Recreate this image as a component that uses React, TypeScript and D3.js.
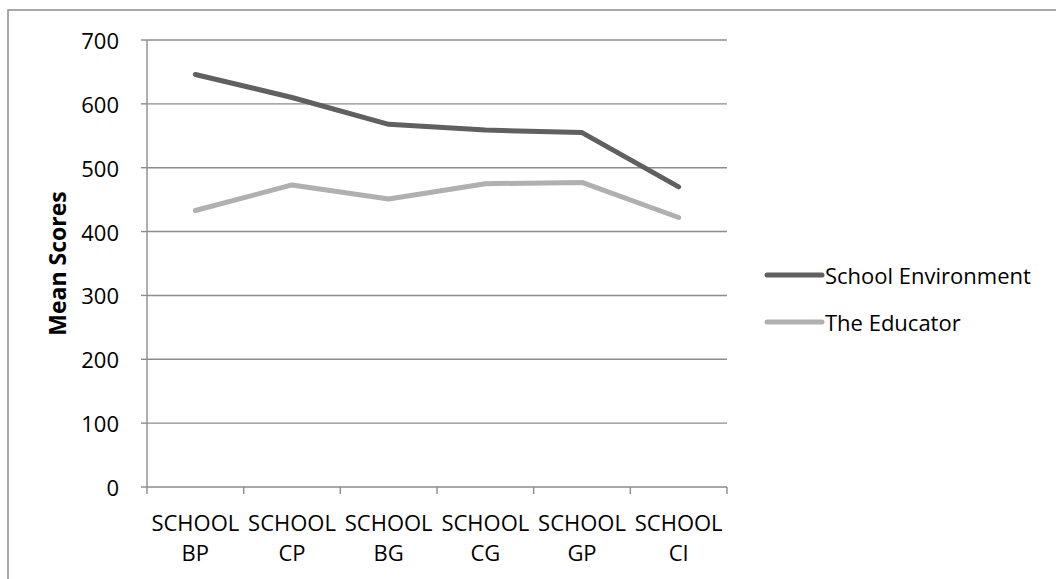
import React from "react";
import * as d3 from "d3";

const categories = ["SCHOOL BP", "SCHOOL CP", "SCHOOL BG", "SCHOOL CG", "SCHOOL GP", "SCHOOL CI"];
const schoolEnvironment = [646, 610, 568, 559, 555, 470];
const theEducator = [433, 473, 451, 475, 477, 422];
const yTicks = [0, 100, 200, 300, 400, 500, 600, 700];
const seriesNames = ["School Environment", "The Educator"];
const seriesColors = ["#606060", "#b0b0b0"];

const W = 1056;
const H = 579;
const plot = { left: 147, right: 727, top: 40, bottom: 487 };
const FONT = "'Open Sans', sans-serif";
const FS = 22;

export default function App() {
  const x = d3.scaleBand<string>().domain(categories).range([plot.left, plot.right]);
  const y = d3.scaleLinear().domain([0, 700]).range([plot.bottom, plot.top]);
  const cx = (c: string) => (x(c) as number) + x.bandwidth() / 2;

  const line = d3
    .line<number>()
    .x((_, i) => cx(categories[i]))
    .y((d) => y(d));

  const series = [schoolEnvironment, theEducator];
  const boundaries = categories.map((c) => x(c) as number).concat([plot.right]);

  return (
    <svg
      width={W}
      height={H}
      style={{ position: "absolute", left: 0, top: 0, background: "#fff" }}
      fontFamily={FONT}
    >
      <rect x={8} y={10} width={W + 10} height={H + 10} fill="#fff" stroke="#8c8c8c" strokeWidth={1.5} />

      {/* horizontal gridlines and y ticks */}
      {yTicks.map((t) => (
        <g key={t}>
          {t > 0 && (
            <line x1={plot.left} x2={plot.right} y1={y(t)} y2={y(t)} stroke="#8c8c8c" strokeWidth={1.4} />
          )}
          <line x1={plot.left - 6} x2={plot.left} y1={y(t)} y2={y(t)} stroke="#8c8c8c" strokeWidth={1.4} />
          <text x={119} y={y(t)} textAnchor="end" dominantBaseline="central" fontSize={FS} fill="#000">
            {t}
          </text>
        </g>
      ))}

      {/* axes */}
      <line x1={plot.left} x2={plot.left} y1={plot.top} y2={plot.bottom} stroke="#8c8c8c" strokeWidth={1.4} />
      <line x1={plot.left} x2={plot.right} y1={plot.bottom} y2={plot.bottom} stroke="#8c8c8c" strokeWidth={1.4} />
      {boundaries.map((b, i) => (
        <line key={i} x1={b} x2={b} y1={plot.bottom} y2={plot.bottom + 7} stroke="#8c8c8c" strokeWidth={1.4} />
      ))}

      {/* category labels */}
      {categories.map((c) => {
        const [a, b] = c.split(" ");
        return (
          <text key={c} textAnchor="middle" fontSize={FS} fill="#000">
            <tspan x={cx(c)} y={531}>{a}</tspan>
            <tspan x={cx(c)} y={561}>{b}</tspan>
          </text>
        );
      })}

      {/* y axis title */}
      <text
        transform={`translate(57,${(plot.top + plot.bottom) / 2}) rotate(-90)`}
        textAnchor="middle"
        dominantBaseline="central"
        fontSize={23}
        fontWeight="bold"
        fill="#000"
      >
        Mean Scores
      </text>

      {/* series lines */}
      {series.map((s, i) => (
        <path
          key={i}
          d={line(s) as string}
          fill="none"
          stroke={seriesColors[i]}
          strokeWidth={5}
          strokeLinejoin="round"
          strokeLinecap="round"
        />
      ))}

      {/* legend */}
      {seriesNames.map((n, i) => {
        const ly = 275 + i * 47;
        return (
          <g key={n}>
            <line x1={767} x2={822} y1={ly} y2={ly} stroke={seriesColors[i]} strokeWidth={5} strokeLinecap="round" />
            <text x={825} y={ly} dominantBaseline="central" fontSize={FS} fill="#000">
              {n}
            </text>
          </g>
        );
      })}
    </svg>
  );
}
